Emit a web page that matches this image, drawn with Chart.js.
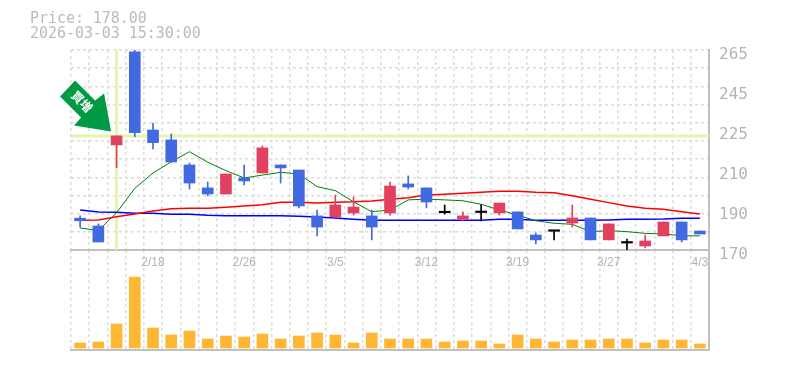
<!DOCTYPE html>
<html>
<head>
<meta charset="utf-8">
<script src="https://cdn.jsdelivr.net/npm/chart.js@4"></script>
<style>
    html, body { margin: 0; padding: 0; background: #fff; }
    #wrap { position: relative; width: 785px; height: 370px; overflow: hidden; }
    #wrap canvas { position: absolute; left: 0; top: 0; }
    #info { position: absolute; left: 30px; top: 11px; font: 15px/15px "DejaVu Sans Mono", monospace; letter-spacing: -0.05px; color: #bbb; white-space: pre; }
</style>
</head>
<body>
<div id="wrap">
    <canvas id="volumeChart" width="785" height="370"></canvas>
    <canvas id="priceChart" width="785" height="370"></canvas>
    <div id="info">Price: 178.00
2026-03-03 15:30:00</div>
</div>
<script>
// categories
const dates = ['2/12','2/13','2/16','2/17','2/18','2/19','2/20','2/24','2/25','2/26','2/27','3/2','3/3','3/4','3/5','3/6','3/9','3/10','3/11','3/12','3/13','3/16','3/17','3/18','3/19','3/23','3/24','3/25','3/26','3/27','3/30','3/31','4/1','4/2','4/3'];

// candles
const openVals = [185.1,181.4,219.9,264.1,227.0,222.3,210.4,199.5,196.6,204.2,206.6,210.4,208.0,186.2,185.7,187.6,186.2,187.6,201.4,199.5,187.7,184.7,187.8,187.6,188.1,177.1,178.9,182.8,185.2,174.8,173.3,171.9,176.7,183.3,179.0];
const closeVals = [183.9,173.8,224.2,225.7,221.0,211.8,201.8,196.6,206.1,202.8,218.5,209.0,190.9,180.9,191.4,190.4,180.9,200.4,199.9,192.8,187.7,186.2,187.8,192.3,180.0,174.8,178.9,185.2,174.8,182.4,173.3,174.3,183.3,174.8,177.6];
const highVals = [186.2,182.4,224.2,265.0,230.3,225.1,211.3,202.3,206.1,210.4,219.4,210.4,208.0,189.0,196.1,195.2,189.0,202.3,205.2,199.5,191.4,188.1,191.4,192.3,188.1,178.1,178.9,191.4,185.2,182.4,175.2,177.1,183.3,183.3,179.0];
const lowVals = [180.9,173.8,209.1,223.8,218.0,211.8,199.0,195.7,196.6,200.9,206.6,201.8,190.0,176.7,185.7,186.6,174.8,186.6,199.0,190.0,187.1,183.8,183.8,186.6,180.0,172.9,174.8,180.9,174.8,174.8,170.0,171.0,176.7,173.8,177.6];

// moving averages
const maShort = [180.5,179.2,187.7,199.3,206.6,211.9,216.7,211.7,207.7,204.2,205.6,206.9,206.1,200.1,198.2,192.9,188.2,189.0,193.8,194.2,193.8,193.4,191.7,189.0,186.6,183.9,182.7,182.2,178.7,179.2,178.7,177.9,177.6,176.8,176.7];
const maMiddle = [184.1,184.3,185.8,187.1,188.5,189.6,189.8,189.8,190.3,190.9,191.5,192.7,192.7,192.3,192.7,192.9,193.3,194.1,194.8,196.1,196.5,196.9,197.4,197.9,197.9,197.4,197.2,195.8,194.1,192.5,190.9,189.8,189.3,188.2,187.1];
const maLong = [189.0,188.1,187.9,187.4,187.4,187.0,187.0,186.5,186.3,186.3,186.3,186.3,186.0,185.7,185.2,184.6,184.1,184.1,184.1,184.1,184.1,184.1,184.1,184.6,184.6,184.1,184.1,184.1,184.1,184.3,184.6,184.6,184.7,185.1,185.1];

// volume
const volumes = [5,6,24,71,20,13,17,9,12,11,14,9,12,15,13,5,15,9,9,9,6,7,7,4,13,9,6,8,8,9,9,5,8,8,4];

// price axis
const priceMin = 170;
const priceMax = 265;
const priceStep = 19;

// crosshair
const crossIndex = 2;
const crossPrice = 224.1;

const GRID = '#dcdcdc';
const AXIS = '#c0c0c0';
const TICK_TEXT = '#b4b4b4';
const UP = '#e2405f';
const DOWN = '#4169e1';
const DOJI = '#000';

const candleColors = openVals.map((o, i) => closeVals[i] > o ? UP : closeVals[i] < o ? DOWN : DOJI);

// crosshair under the candles
const crosshairPlugin = {
    id: 'crosshair',
    beforeDatasetsDraw(chart) {
        const { ctx, chartArea, scales } = chart;
        const x = scales.x.getPixelForValue(crossIndex);
        const y = scales.y.getPixelForValue(crossPrice);
        ctx.save();
        ctx.strokeStyle = '#e4f5b0';
        ctx.lineWidth = 3;
        ctx.beginPath();
        ctx.moveTo(x, chartArea.top);
        ctx.lineTo(x, chartArea.bottom);
        ctx.moveTo(chartArea.left, y);
        ctx.lineTo(chartArea.right, y);
        ctx.stroke();
        ctx.restore();
    }
};

// green marker arrow pointing at the crosshair
const arrowPlugin = {
    id: 'arrow',
    afterDraw(chart) {
        const { ctx, scales } = chart;
        const tipX = scales.x.getPixelForValue(crossIndex) - 5.5;
        const tipY = scales.y.getPixelForValue(crossPrice) - 4.5;
        const outline = [[0, 0], [-37, -6], [-30, -14], [-51, -35], [-36, -51], [-16, -31], [-7, -38]];
        ctx.save();
        ctx.translate(tipX, tipY);
        ctx.fillStyle = '#009944';
        ctx.beginPath();
        outline.forEach(([px, py], i) => i ? ctx.lineTo(px, py) : ctx.moveTo(px, py));
        ctx.closePath();
        ctx.fill();
        ctx.translate(-29, -30);
        ctx.rotate(Math.PI / 4);
        ctx.fillStyle = '#fff';
        ctx.font = 'bold 12px "Noto Sans CJK JP", sans-serif';
        ctx.textAlign = 'center';
        ctx.textBaseline = 'middle';
        ctx.fillText('買増', 0, 0);
        ctx.restore();
    }
};

function lineSet(data, color, width) {
    return { type: 'line', data, borderColor: color, borderWidth: width, pointRadius: 0, tension: 0, order: 5 };
}

new Chart(document.getElementById('priceChart'), {
    type: 'bar',
    data: {
        labels: dates,
        datasets: [
            lineSet(maShort, '#008000', 1),
            lineSet(maMiddle, '#ff0000', 1.5),
            lineSet(maLong, '#0000ff', 1.5),
            {
                data: lowVals.map((v, i) => [v, highVals[i]]),
                backgroundColor: candleColors,
                barThickness: 1,
                grouped: false,
                order: 3
            },
            {
                data: openVals.map((v, i) => [v, closeVals[i]]),
                backgroundColor: candleColors,
                barThickness: 11,
                minBarLength: 1.5,
                grouped: false,
                order: 2
            }
        ]
    },
    options: {
        responsive: false,
        animation: false,
        events: [],
        layout: { padding: { left: 71, top: 50, bottom: 100 } },
        plugins: { legend: { display: false }, tooltip: { enabled: false } },
        scales: {
            x: {
                grid: { color: GRID, lineWidth: 1.5, offset: true, drawTicks: false },
                border: { color: AXIS, width: 2, dash: [3, 3] },
                ticks: {
                    autoSkip: false,
                    maxRotation: 0,
                    padding: 5,
                    color: TICK_TEXT,
                    font: { family: '"Liberation Sans", sans-serif', size: 12 },
                    callback(v, i) { return i % 5 === 4 ? dates[i] : ''; }
                },
                afterFit(s) { s.height = 20; }
            },
            y: {
                position: 'right',
                min: priceMin,
                max: priceMax,
                grid: { display: false },
                border: { color: AXIS, width: 2 },
                ticks: {
                    stepSize: priceStep,
                    padding: 2,
                    labelOffset: 5,
                    color: TICK_TEXT,
                    font: { family: '"DejaVu Sans Mono", monospace', size: 16 },
                    callback(v) { return Math.round(v / 5) * 5; }
                },
                afterFit(s) { s.width = 76; }
            },
            yGrid: {
                position: 'left',
                min: 0,
                max: 11,
                grid: { color: GRID, lineWidth: 1.5, drawTicks: false },
                border: { display: false, dash: [3, 3] },
                ticks: { stepSize: 1, display: false },
                afterFit(s) { s.width = 0; }
            }
        }
    },
    plugins: [crosshairPlugin, arrowPlugin]
});

new Chart(document.getElementById('volumeChart'), {
    type: 'bar',
    data: {
        labels: dates,
        datasets: [{ data: volumes, backgroundColor: '#ffb733', barThickness: 11 }]
    },
    options: {
        responsive: false,
        animation: false,
        events: [],
        layout: { padding: { left: 71, top: 250, bottom: 20 } },
        plugins: { legend: { display: false }, tooltip: { enabled: false } },
        scales: {
            x: {
                grid: { color: GRID, lineWidth: 1.5, offset: true, drawTicks: false },
                border: { color: AXIS, width: 2, dash: [3, 3] },
                ticks: { display: false },
                afterFit(s) { s.height = 0; }
            },
            y: {
                position: 'right',
                min: -2,
                max: 98,
                grid: { display: false },
                border: { color: AXIS, width: 2 },
                ticks: { display: false },
                afterFit(s) { s.width = 76; }
            }
        }
    }
});
</script>
</body>
</html>
